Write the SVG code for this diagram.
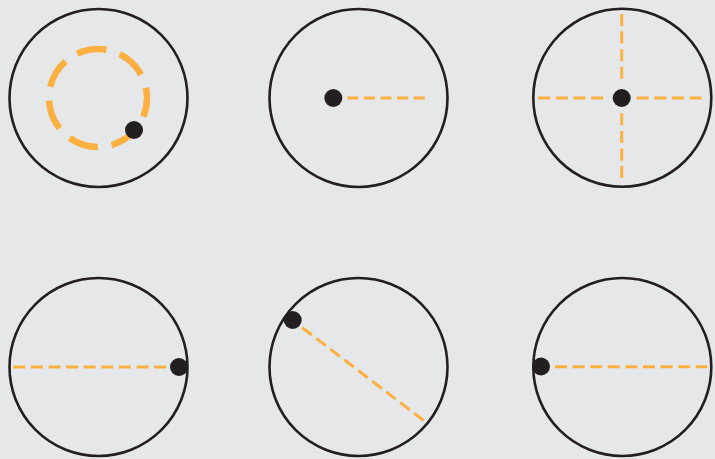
<svg xmlns="http://www.w3.org/2000/svg" width="715" height="459" viewBox="0 0 715 459">
<style>
.ring{fill:none;stroke:#231F20;stroke-width:2.6}
.dot{fill:#231F20}
.path{fill:none;stroke:#FBB040;stroke-width:3}
.dl{stroke-dasharray:12 5.6}
</style>
<rect width="715" height="459" fill="#E6E7E8"/>
<g id="panel1">
<circle class="ring" cx="98.5" cy="98" r="89"/>
<circle cx="98" cy="98" r="49" fill="none" stroke="#FBB040" stroke-width="6.5" stroke-dasharray="30 14" stroke-dashoffset="11"/>
<circle class="dot" cx="134" cy="130" r="9"/>
</g>
<g id="panel2">
<circle class="ring" cx="358.5" cy="98" r="89"/>
<line class="path" x1="347.3" y1="98" x2="425.7" y2="98" stroke-dasharray="11 5.6"/>
<circle class="dot" cx="333.3" cy="98" r="9"/>
</g>
<g id="panel3">
<circle class="ring" cx="622.3" cy="97.8" r="89"/>
<line class="path dl" x1="538.3" y1="98" x2="606" y2="98"/>
<line class="path dl" x1="636.7" y1="98" x2="705.7" y2="98"/>
<line class="path dl" x1="621.7" y1="14" x2="621.7" y2="81.7"/>
<line class="path dl" x1="621.7" y1="113.3" x2="621.7" y2="181.7"/>
<circle class="dot" cx="621.7" cy="98" r="9"/>
</g>
<g id="panel4">
<circle class="ring" cx="98.5" cy="367" r="89"/>
<line class="path dl" x1="13.3" y1="367" x2="166.7" y2="367"/>
<circle class="dot" cx="179" cy="367" r="9"/>
</g>
<g id="panel5">
<circle class="ring" cx="358.5" cy="367" r="89"/>
<line class="path dl" x1="302.3" y1="327.7" x2="424.3" y2="421"/>
<circle class="dot" cx="292.7" cy="320" r="9"/>
</g>
<g id="panel6">
<circle class="ring" cx="622.3" cy="367" r="89"/>
<line class="path dl" x1="555" y1="366.7" x2="707.3" y2="366.7"/>
<circle class="dot" cx="541" cy="366.5" r="9"/>
</g>
</svg>
